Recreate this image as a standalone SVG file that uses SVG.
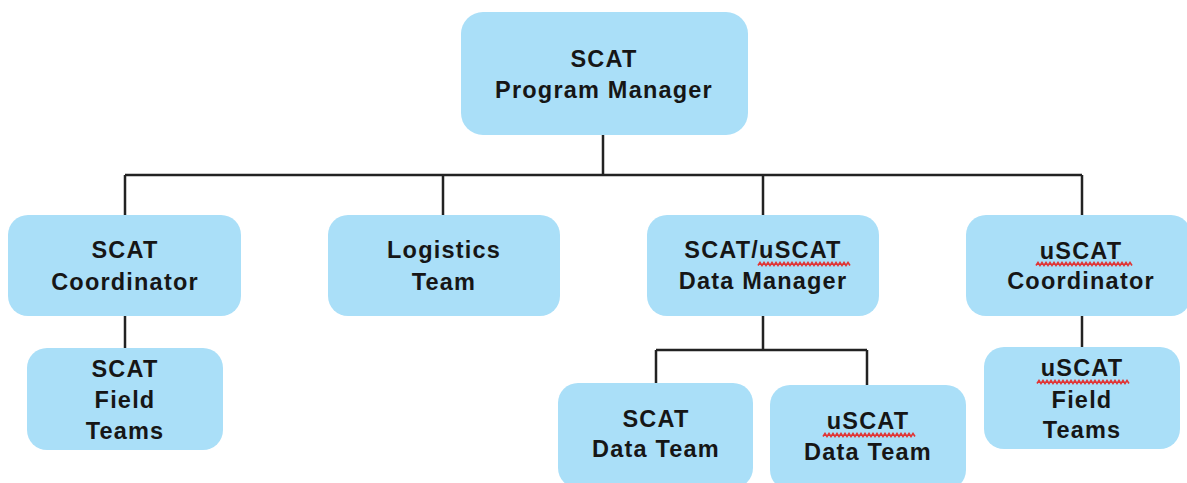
<svg xmlns="http://www.w3.org/2000/svg" width="1187" height="483" viewBox="0 0 1187 483">
<style>
.box{fill:#aadff8;}
.t{font-family:"Liberation Sans",Arial,sans-serif;font-weight:bold;font-size:23.5px;letter-spacing:1.2px;fill:#161616;text-anchor:middle;}
.c{stroke:#222;stroke-width:2.5;fill:none;}
.sq{stroke:#e03535;stroke-width:1.6;fill:none;}
</style>
<rect width="1187" height="483" fill="#fff"/>
<g id="connectors">
<path class="c" d="M603 135V175M125 175H1082M125 175V215M443 175V215M763 175V215M1082 175V215"/>
<path class="c" d="M125 316V348"/>
<path class="c" d="M763 316V350M656 350H867M656 350V384M867 350V385"/>
<path class="c" d="M1082 316V347"/>
</g>
<g id="program-manager">
<rect class="box" x="461" y="12" width="287" height="123" rx="22"/>
<text class="t" x="604" y="67">SCAT</text>
<text class="t" x="604" y="98">Program Manager</text>
</g>
<g id="scat-coordinator">
<rect class="box" x="8" y="215" width="233" height="101" rx="20"/>
<text class="t" x="125" y="258">SCAT</text>
<text class="t" x="125" y="290">Coordinator</text>
</g>
<g id="scat-field-teams">
<rect class="box" x="27" y="348" width="196" height="102" rx="20"/>
<text class="t" x="125" y="377">SCAT</text>
<text class="t" x="125" y="408">Field</text>
<text class="t" x="125" y="439">Teams</text>
</g>
<g id="logistics-team">
<rect class="box" x="328" y="215" width="232" height="101" rx="20"/>
<text class="t" x="444" y="258">Logistics</text>
<text class="t" x="444" y="290">Team</text>
</g>
<g id="data-manager">
<rect class="box" x="647" y="215" width="232" height="101" rx="20"/>
<text class="t" x="763" y="258">SCAT/uSCAT</text>
<text class="t" x="763" y="289">Data Manager</text>
<path class="sq" d="M758 265.5l2-3l2 3l2-3l2 3l2-3l2 3l2-3l2 3l2-3l2 3l2-3l2 3l2-3l2 3l2-3l2 3l2-3l2 3l2-3l2 3l2-3l2 3l2-3l2 3l2-3l2 3l2-3l2 3l2-3l2 3l2-3l2 3l2-3l2 3l2-3l2 3l2-3l2 3l2-3l2 3l2-3l2 3l2-3l2 3l2-3l2 3"/>
</g>
<g id="scat-data-team">
<rect class="box" x="558" y="383" width="195" height="105" rx="20"/>
<text class="t" x="656" y="427">SCAT</text>
<text class="t" x="656" y="457">Data Team</text>
</g>
<g id="uscat-data-team">
<rect class="box" x="770" y="385" width="196" height="105" rx="20"/>
<text class="t" x="868" y="429">uSCAT</text>
<text class="t" x="868" y="460">Data Team</text>
<path class="sq" d="M823 436.5l2-3l2 3l2-3l2 3l2-3l2 3l2-3l2 3l2-3l2 3l2-3l2 3l2-3l2 3l2-3l2 3l2-3l2 3l2-3l2 3l2-3l2 3l2-3l2 3l2-3l2 3l2-3l2 3l2-3l2 3l2-3l2 3l2-3l2 3l2-3l2 3l2-3l2 3l2-3l2 3l2-3l2 3l2-3l2 3l2-3l2 3"/>
</g>
<g id="uscat-coordinator">
<rect class="box" x="966" y="215" width="225" height="101" rx="20"/>
<text class="t" x="1081" y="259">uSCAT</text>
<text class="t" x="1081" y="289">Coordinator</text>
<path class="sq" d="M1036 265.5l2-3l2 3l2-3l2 3l2-3l2 3l2-3l2 3l2-3l2 3l2-3l2 3l2-3l2 3l2-3l2 3l2-3l2 3l2-3l2 3l2-3l2 3l2-3l2 3l2-3l2 3l2-3l2 3l2-3l2 3l2-3l2 3l2-3l2 3l2-3l2 3l2-3l2 3l2-3l2 3l2-3l2 3l2-3l2 3l2-3l2 3l2-3l2 3"/>
</g>
<g id="uscat-field-teams">
<rect class="box" x="984" y="347" width="196" height="102" rx="20"/>
<text class="t" x="1082" y="376">uSCAT</text>
<text class="t" x="1082" y="408">Field</text>
<text class="t" x="1082" y="438">Teams</text>
<path class="sq" d="M1037 383.5l2-3l2 3l2-3l2 3l2-3l2 3l2-3l2 3l2-3l2 3l2-3l2 3l2-3l2 3l2-3l2 3l2-3l2 3l2-3l2 3l2-3l2 3l2-3l2 3l2-3l2 3l2-3l2 3l2-3l2 3l2-3l2 3l2-3l2 3l2-3l2 3l2-3l2 3l2-3l2 3l2-3l2 3l2-3l2 3l2-3l2 3"/>
</g>
</svg>
